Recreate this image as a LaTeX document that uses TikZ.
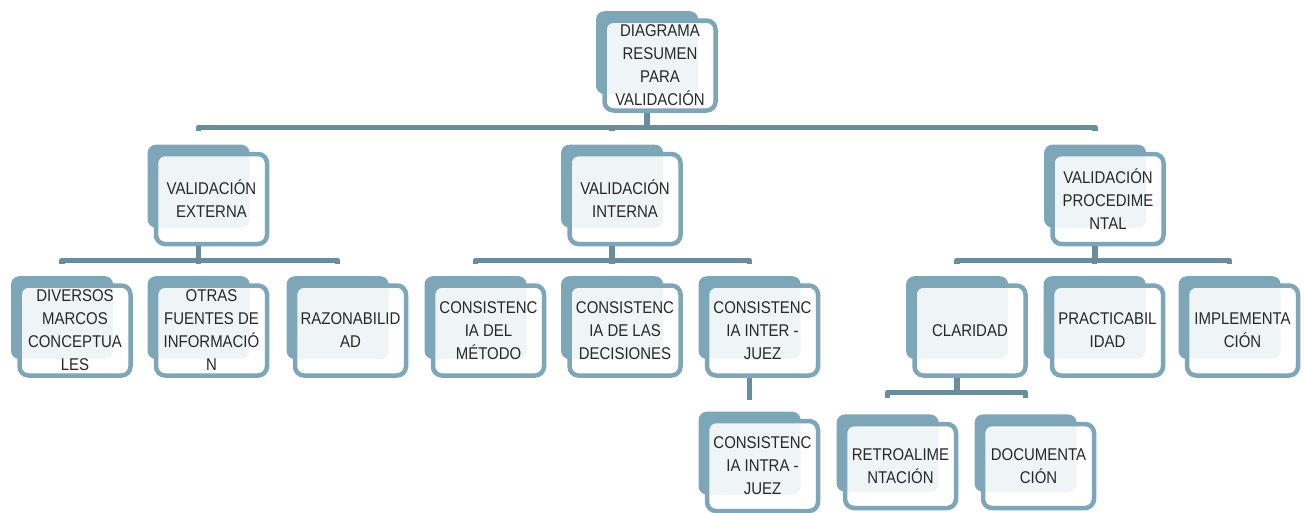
\documentclass[tikz,border=0pt]{standalone}
\usepackage{fontspec}
\setmainfont{Liberation Sans}[FakeStretch=0.88]
\usetikzlibrary{shadows}
\definecolor{boxblue}{RGB}{125,166,184}
\definecolor{linkblue}{RGB}{106,141,158}
\definecolor{textgray}{RGB}{40,40,40}

\begin{document}
\begin{tikzpicture}[x=1pt,y=-1pt,
    box/.style={draw=boxblue, line width=4.5pt, rounded corners=9pt,
      fill=white, fill opacity=0.88, text opacity=1, text=textgray,
      align=center, minimum width=111pt, minimum height=90pt, inner sep=1pt,
      font=\fontsize{17}{23}\selectfont,
      copy shadow={shadow xshift=-14pt, shadow yshift=14pt, shadow scale=0.92,
        fill=boxblue, draw=none, fill opacity=1}},
    link/.style={draw=linkblue, line width=5.5pt, line join=round}]
        \useasboundingbox (0,0) rectangle (1304,512);

        \node[box] (top) at (660,65.5) {DIAGRAMA\\RESUMEN\\PARA\\VALIDACIÓN};

        \node[box] (ext) at (211.5,199) {VALIDACIÓN\\EXTERNA};
        \node[box] (int) at (625,199) {VALIDACIÓN\\INTERNA};
        \node[box] (proc) at (1108,199) {VALIDACIÓN\\PROCEDIME\\NTAL};

        \node[box] (div) at (75,330.5) {DIVERSOS\\MARCOS\\CONCEPTUA\\LES};
        \node[box] (otr) at (211.5,330.5) {OTRAS\\FUENTES DE\\INFORMACIÓ\\N};
        \node[box] (raz) at (350.5,330.5) {RAZONABILID\\AD};

        \node[box] (met) at (488.5,330.5) {CONSISTENC\\IA DEL\\MÉTODO};
        \node[box] (dec) at (625,330.5) {CONSISTENC\\IA DE LAS\\DECISIONES};
        \node[box] (inter) at (762.5,330.5) {CONSISTENC\\IA INTER -\\JUEZ};
        \node[box] (intra) at (762.5,466) {CONSISTENC\\IA INTRA -\\JUEZ};

        \node[box] (cla) at (970,330.5) {CLARIDAD};
        \node[box] (pra) at (1107.5,330.5) {PRACTICABIL\\IDAD};
        \node[box] (imp) at (1242.5,330.5) {IMPLEMENTA\\CIÓN};
        \node[box,minimum height=84pt] (ret) at (900.5,466) {RETROALIME\\NTACIÓN};
        \node[box,minimum height=84pt] (doc) at (1038.5,466) {DOCUMENTA\\CIÓN};

        % first level
        \draw[link] ([xshift=-13pt]top.south) -- ++(0,14.5) -| ([xshift=-13pt,yshift=21pt]ext.north);
        \draw[link] ([xshift=-13pt]top.south) -- ++(0,14.5) -| ([xshift=-13pt,yshift=21pt]int.north);
        \draw[link] ([xshift=-13pt]top.south) -- ++(0,14.5) -| ([xshift=-13pt,yshift=21pt]proc.north);

        % second level
        \draw[link] ([xshift=-13pt]ext.south) -- ++(0,14) -| ([xshift=-13pt,yshift=19pt]div.north);
        \draw[link] ([xshift=-13pt]ext.south) -- ++(0,14) -| ([xshift=-13pt,yshift=19pt]otr.north);
        \draw[link] ([xshift=-13pt]ext.south) -- ++(0,14) -| ([xshift=-13pt,yshift=19pt]raz.north);
        \draw[link] ([xshift=-13pt]int.south) -- ++(0,14) -| ([xshift=-13pt,yshift=19pt]met.north);
        \draw[link] ([xshift=-13pt]int.south) -- ++(0,14) -| ([xshift=-13pt,yshift=19pt]dec.north);
        \draw[link] ([xshift=-13pt]int.south) -- ++(0,14) -| ([xshift=-13pt,yshift=19pt]inter.north);
        \draw[link] ([xshift=-13pt]proc.south) -- ++(0,14) -| ([xshift=-13pt,yshift=19pt]cla.north);
        \draw[link] ([xshift=-13pt]proc.south) -- ++(0,14) -| ([xshift=-13pt,yshift=19pt]pra.north);
        \draw[link] ([xshift=-13pt]proc.south) -- ++(0,14) -| ([xshift=-13pt,yshift=19pt]imp.north);

        % third level
        \draw[link] ([xshift=-13pt]inter.south) -- ([xshift=-13pt,yshift=19pt]intra.north);
        \draw[link] ([xshift=-13pt]cla.south) -- ++(0,14.5) -| ([xshift=-13pt,yshift=24pt]ret.north);
        \draw[link] ([xshift=-13pt]cla.south) -- ++(0,14.5) -| ([xshift=-13pt,yshift=24pt]doc.north);
\end{tikzpicture}
\end{document}
